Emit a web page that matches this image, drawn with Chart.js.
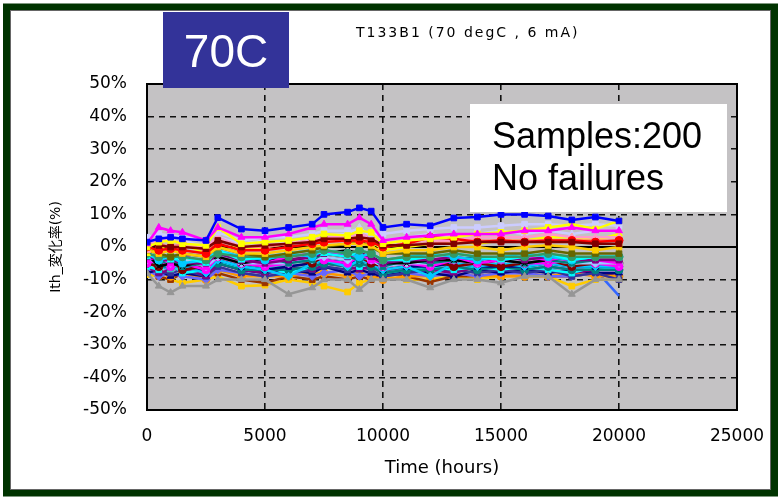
<!DOCTYPE html>
<html>
<head>
<meta charset="utf-8">
<script src="https://cdn.jsdelivr.net/npm/chart.js@4.4.1/dist/chart.umd.min.js"></script>
<style>
  html, body { margin: 0; padding: 0; background: #fff; }
</style>
</head>
<body>
<canvas id="ithChart" width="781" height="498"></canvas>
<script>
// time axis (hours) and tick values
const hours = [0, 500, 1000, 1500, 2500, 3000, 4000, 5000, 6000, 7000, 7500, 8500, 9000, 9500, 10000, 11000, 12000, 13000, 14000, 15000, 16000, 17000, 18000, 19000, 20000];
const xTickValues = [0, 5000, 10000, 15000, 20000, 25000];
const yTickValues = [-50, -40, -30, -20, -10, 0, 10, 20, 30, 40, 50];

// Ith change (%) per sample
const sBlue     = [1.5, 2.5, 3, 2.5, 2, 9, 5.5, 5, 6, 7, 10, 10.7, 12, 11, 6, 7, 6.5, 8.9, 9.2, 10, 10, 9.5, 8.3, 9.2, 8];
const sMagenta  = [1, 6, 5, 4.5, 2, 6, 3, 3, 4, 6, 7, 7, 9, 7, 2, 3, 3.5, 4, 4, 4, 5, 5, 6, 5, 5];
const sGray     = [-8, -12, -14, -12, -12, -10, -10, -10, -14.5, -12.5, -10, -10, -13, -10, -10, -10, -12.5, -10, -10, -11, -9, -9, -14.5, -10, -10];
const sYellow   = [0, 1.5, 2, 1, 0.5, 6, 1, 1.5, 2, 3, 4, 3.5, 5, 4.5, 1, 2, 2.5, 3, 4, 4.5, 5, 6, 7, 5.5, 8];
const sLavender = [3, 4, 3.5, 3, 2, 4.5, 2, 3, 3, 4, 5, 5, 5, 4, 4, 5, 5.5, 6, 6, 6.5, 7, 7, 6.5, 7, 6.5];
const sDarkRed  = [0.5, 0.5, 0, 0, -0.5, 2, 0, 0.5, 1, 1.5, 2.5, 2.5, 3, 2.5, 0.5, 0.5, 1, 1, 1.5, 1.5, 1.5, 1.5, 1.5, 1, 1];
const sRed      = [0, -1, -0.5, -1, -2, 1, -1, -1, 0, 1, 1.5, 2, 2, 1.5, 0, 1, 3, 2.5, 1.5, 2, 1.5, 2, 2, 1.5, 2];
const sPink     = [-1, 3, 2, 1, 0, 3, 0, 0.5, 1, 2, 3, 3, 4, 3, 1, 2, 2, 2, 3, 3, 3, 4, 3, 3, 3];
const sSalmon   = [1, 1, 0, 1, -1, 2, 0, 0, 1, 2, 2, 3, 2, 2, 0, 1, 1, 2, 2, 2, 2, 2, 2, 2, 2];
const sGold     = [-1, -2, -1, -2, -3, 0, -2, -2, -1, 0, 0.5, 1, 1, 0.5, -2, -1, -1, 0, 0, -1, 0, 0.5, 0, -1, 0];
const sOlive    = [-1, -2, -3, -2, -3, 0, -2, -3, -2, -1, 0, 1, 2, 0, -2, -2, -2, -1, -2, -2, -2, -1, -2, -2, -2];
const sYellow2  = [-2, 0, -1, 1, -2, 3, -1, 0, 1, 2, 2, 4, 3, 2, -1, 0, 1, 2, 1, 2, 2, 3, 3, 2, 4];
const sLav2     = [1, 2, 4, 2, 0, 3, 1, 2, 1, 3, 4, 4, 6, 3, 2, 3, 4, 3, 4, 5, 4, 5, 4, 5, 5];
const sGreen    = [-2, -3, -3, -3, -4, -2, -3, -3, -3, -2, -1, -2, -1, -2, -4, -3, -3, -2, -3, -3, -3, -2, -3, -3, -3];
const sCyan     = [-3, -2, -4, -3, -5, -1, -4, -3, -2, -1, -2, -3, -1, -2, -4, -4, -3, -2, -3, -4, -3, -2, -4, -3, -3];
const sSky2     = [-2, -4, -3, -5, -4, -1, -3, -4, -2, -3, -1, -2, -3, -2, -4, -3, -2, -3, -4, -3, -2, -3, -4, -3, -3];
const sPurple   = [-3, -4, -4, -5, -5, -2, -4, -5, -4, -3, -2, -3, -2, -3, -5, -4, -4, -3, -4, -3, -4, -3, -4, -4, -4];
const sMagenta2 = [-4, -3, -5, -2, -6, -1, -4, -5, -3, -2, -1, -3, -2, -4, -5, -3, -4, -3, -5, -4, -3, -4, -3, -4, -5];
const sBlack    = [-2, -6, -5, -6, -4, -3, -5, -4, -4, -3, -2, -1, -2, -3, -5, -5, -4, -4, -5, -4, -5, -4, -3, -4, -4];
const sTeal2    = [-3, -5, -4, -6, -5, -2, -4, -3, -5, -4, -2, -3, -4, -3, -6, -4, -5, -4, -3, -4, -5, -4, -5, -4, -4];
const sLightBlu = [-4, -4, -5, -4, -6, -3, -5, -5, -5, -4, -3, -4, -3, -4, -6, -5, -5, -4, -5, -4, -5, -4, -5, -5, -5];
const sRose     = [-5, -4, -6, -5, -7, -3, -5, -6, -5, -3, -4, -5, -3, -4, -6, -5, -6, -4, -5, -4, -5, -5, -4, -5, -6];
const sMaroon2  = [-5, -6, -4, -7, -6, -3, -5, -6, -4, -5, -3, -4, -3, -5, -6, -5, -4, -6, -5, -6, -5, -4, -6, -5, -5];
const sSky      = [-4, -5, -6, -6, -8, -4, -6, -7, -9, -5, -4, -6, -4, -5, -7, -6, -9, -5, -6, -5, -6, -5, -6, -6, -6];
const sNavy     = [-4, -5, -6, -5, -8, -4, -6, -7, -6, -5, -4, -5, -4, -5, -7, -6, -6, -5, -6, -6, -6, -5, -6, -6, -6];
const sTeal     = [-5, -6, -6, -6, -7, -5, -7, -7, -7, -6, -5, -6, -5, -6, -8, -7, -7, -6, -7, -6, -7, -6, -7, -7, -7];
const sTurq     = [-5, -5, -7, -6, -7, -4, -6, -6, -6, -5, -4, -5, -4, -5, -7, -6, -6, -5, -6, -5, -6, -5, -6, -6, -6];
const sCyan2    = [-6, -7, -5, -8, -7, -4, -7, -6, -8, -6, -5, -4, -6, -5, -8, -7, -6, -7, -6, -7, -6, -7, -8, -6, -7];
const sPurple2  = [-6, -8, -7, -6, -9, -5, -7, -8, -6, -7, -5, -6, -7, -6, -8, -6, -7, -8, -6, -7, -6, -7, -8, -7, -7];
const sIndigo   = [-6, -8, -8, -7, -9, -6, -8, -9, -8, -7, -6, -7, -6, -7, -9, -8, -7, -7, -8, -7, -8, -7, -9, -8, -10];
const sNavy2    = [-8, -7, -9, -8, -9, -5, -7, -8, -7, -8, -6, -8, -7, -8, -9, -7, -8, -9, -7, -8, -7, -8, -7, -8, -8];
const sPeri     = [-7, -9, -8, -9, -10, -7, -8, -9, -8, -9, -8, -7, -9, -8, -9, -8, -9, -8, -9, -8, -8, -9, -9, -8, -8];
const sOrange   = [-7, -8, -9, -8, -10, -7, -9, -9, -9, -8, -8, -9, -8, -9, -10, -9, -9, -8, -9, -9, -9, -9, -8, -9, -9];
const sBrown    = [-6, -9, -10, -8, -9, -8, -10, -11, -9, -10, -9, -10, -9, -10, -8, -9, -10.7, -9, -9, -8, -8, -9, -9, -8, -9];
const sGoldLow  = [-8.5, -9, -10, -11, -10, -9, -12, -11.7, -10, -11, -12, -13.8, -11, -10, -9, -10, -10, -9, -10, -9, -9, -9, -12, -10, -10];
const sRoyal    = [-5, -6, -7, -6, -8, -5, -7, -8, -7, -6, -5, -6, -5, -6, -8, -7, -7, -6, -7, -6, -7, -6, -7, -7, -15];

// drawing order: first entry ends up on top
const seriesValues = [sBlue, sMagenta, sGray, sYellow, sLavender, sDarkRed, sRed, sPink, sSalmon, sGold, sOlive, sYellow2, sLav2,
  sGreen, sCyan, sSky2, sPurple, sMagenta2, sBlack, sTeal2, sLightBlu, sRose, sMaroon2, sSky, sNavy, sTeal, sTurq, sCyan2,
  sPurple2, sIndigo, sNavy2, sPeri, sOrange, sBrown, sGoldLow, sRoyal];
const seriesColors = ['#0000FF', '#FF00FF', '#969696', '#FFFF00', '#CCCCFF', '#800000', '#FF0000', '#FF99CC', '#FF8080', '#FFCC00', '#666600', '#FFFF00', '#CCCCFF',
  '#339966', '#00FFFF', '#00CCFF', '#800080', '#FF00FF', '#000000', '#008080', '#99CCFF', '#FF00FF', '#800000', '#00CCFF', '#000080', '#008080', '#33CCCC', '#00FFFF',
  '#800080', '#333399', '#000080', '#6666FF', '#FF9900', '#993300', '#FFCC00', '#3366FF'];
const seriesMarkers = ['rect', 'triangle', 'triangle', 'rect', 'rect', 'rect', 'circle', 'triangle', 'circle', 'rect', 'rect', 'triangle', 'triangle',
  'circle', 'triangle', 'circle', 'rect', 'rect', 'crossRot', 'rect', 'rectRot', 'circle', 'circle', 'rectRot', 'rect', 'circle', 'triangle', 'rect',
  'triangle', 'rect', 'triangle', 'rectRot', 'circle', 'rect', 'rect', false];

const FONT = '"DejaVu Sans", "Noto Sans CJK JP", sans-serif';
const SANS = '"Liberation Sans", Arial, sans-serif';

const datasets = seriesValues.map((vals, i) => ({
  label: 'S' + (i + 1),
  data: hours.map((h, j) => ({ x: h, y: vals[j] })),
  borderColor: seriesColors[i],
  backgroundColor: seriesColors[i],
  borderWidth: 2.5,
  pointStyle: seriesMarkers[i],
  pointRadius: seriesMarkers[i] ? 4 : 0,
  pointBorderWidth: 1,
  tension: 0
}));

const framePlugin = {
  id: 'frame',
  beforeDraw(chart) {
    const { ctx, chartArea: a } = chart;
    ctx.save();
    ctx.fillStyle = '#fff';
    ctx.fillRect(0, 0, chart.width, chart.height);
    ctx.fillStyle = '#C4C2C4';
    ctx.fillRect(a.left, a.top, a.right - a.left, a.bottom - a.top);
    ctx.restore();
  },
  beforeDatasetsDraw(chart) {
    const { ctx, chartArea: a, scales } = chart;
    ctx.save();
    // solid zero line
    const y0 = scales.y.getPixelForValue(0);
    ctx.strokeStyle = '#000';
    ctx.lineWidth = 2;
    ctx.beginPath();
    ctx.moveTo(a.left, y0);
    ctx.lineTo(a.right, y0);
    ctx.stroke();
    // plot border
    ctx.strokeRect(a.left, a.top, a.right - a.left, a.bottom - a.top);
    ctx.restore();
  },
  afterDraw(chart) {
    const { ctx } = chart;
    ctx.save();
    // outer green frame
    ctx.strokeStyle = '#003300';
    ctx.lineWidth = 7;
    ctx.strokeRect(6.5, 7, 768, 486);
    ctx.strokeStyle = '#666';
    ctx.lineWidth = 1;
    ctx.strokeRect(10.5, 10.5, 760, 479);

    // 70C box
    ctx.fillStyle = '#333399';
    ctx.fillRect(163, 12, 126, 76);
    ctx.fillStyle = '#fff';
    ctx.font = '46px ' + SANS;
    ctx.textAlign = 'center';
    ctx.textBaseline = 'alphabetic';
    ctx.fillText('70C', 226, 67);

    // title
    ctx.fillStyle = '#000';
    ctx.font = '14px ' + FONT;
    ctx.textAlign = 'left';
    ctx.textBaseline = 'middle';
    ctx.letterSpacing = '2px';
    ctx.fillText('T133B1 (70 degC , 6 mA)', 356, 33);
    ctx.letterSpacing = '0px';

    // samples box
    ctx.fillStyle = '#fff';
    ctx.fillRect(470, 104, 257, 108);
    ctx.fillStyle = '#000';
    ctx.font = '36px ' + SANS;
    ctx.textBaseline = 'alphabetic';
    ctx.fillText('Samples:200', 492, 148);
    ctx.fillText('No failures', 492, 190);
    ctx.restore();
  }
};

new Chart(document.getElementById('ithChart'), {
  type: 'line',
  data: { datasets },
  options: {
    responsive: false,
    animation: false,
    layout: { padding: { left: 10, right: 44, top: 84, bottom: 0 } },
    plugins: { legend: { display: false }, tooltip: { enabled: false } },
    scales: {
      x: {
        type: 'linear',
        min: 0, max: 25000,
        afterBuildTicks: s => { s.ticks = xTickValues.map(v => ({ value: v })); },
        afterFit: s => { s.height = 88; },
        ticks: { color: '#000', padding: 16, font: { family: FONT, size: 17 }, callback: v => String(v) },
        grid: { color: '#111', lineWidth: 1.6, drawTicks: false },
        border: { display: true, color: '#000', width: 2, dash: [6, 5] },
        title: { display: true, text: 'Time (hours)', color: '#000', font: { family: FONT, size: 18 }, padding: { top: 0, bottom: 19 } }
      },
      y: {
        min: -50, max: 50,
        afterBuildTicks: s => { s.ticks = yTickValues.map(v => ({ value: v })); },
        afterFit: s => { s.width = 137; },
        ticks: { color: '#000', padding: 20, font: { family: FONT, size: 17 }, callback: v => v + '%' },
        grid: { color: '#111', lineWidth: 1.6, drawTicks: false },
        border: { display: true, color: '#000', width: 2, dash: [6, 5] },
        title: { display: true, text: 'Ith_変化率(%)', color: '#000', font: { family: FONT, size: 14 }, padding: { top: 38, bottom: 0 } }
      }
    }
  },
  plugins: [framePlugin]
});
</script>
</body>
</html>
